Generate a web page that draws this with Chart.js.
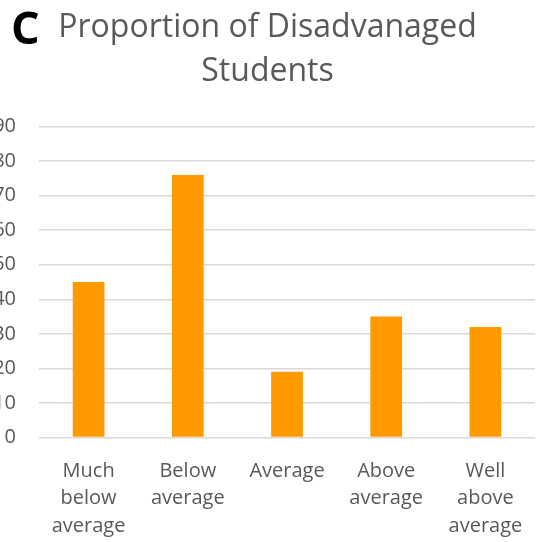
<!DOCTYPE html>
<html>
<head>
<meta charset="utf-8">
<script src="https://cdn.jsdelivr.net/npm/chart.js@4"></script>
<style>
  html, body { margin: 0; padding: 0; background: #ffffff; overflow: hidden; }
  #wrap { position: relative; width: 536px; height: 542px; }
</style>
</head>
<body>
<div id="wrap"><canvas id="c" width="536" height="542"></canvas></div>
<script>
const categories = [
  ["Much", "below", "average"],
  ["Below", "average"],
  "Average",
  ["Above", "average"],
  ["Well", "above", "average"]
];
const proportionValues = [45, 76, 19, 35, 32];
const titleLines = ["Proportion of Disadvanaged", "Students"];
const panelLetter = "C";
const yMin = 0, yMax = 90, yStep = 10;

const panelLetterPlugin = {
  id: 'panelLetter',
  afterDraw(chart) {
    const ctx = chart.ctx;
    ctx.save();
    ctx.font = 'bold 45px "Open Sans"';
    ctx.fillStyle = '#000000';
    ctx.textBaseline = 'alphabetic';
    ctx.textAlign = 'left';
    ctx.fillText(panelLetter, 11, 44);
    ctx.restore();
  }
};

new Chart(document.getElementById('c'), {
  type: 'bar',
  data: {
    labels: categories,
    datasets: [{
      data: proportionValues,
      backgroundColor: '#ff9900',
      borderWidth: 0,
      barPercentage: 0.8,
      categoryPercentage: 0.4
    }]
  },
  options: {
    responsive: false,
    animation: false,
    devicePixelRatio: 1,
    layout: { padding: { left: 0, right: 1, top: 0, bottom: 0 } },
    plugins: {
      legend: { display: false },
      tooltip: { enabled: false },
      title: {
        display: true,
        text: titleLines,
        color: '#595959',
        font: { family: '"Open Sans"', size: 32, weight: 'normal', lineHeight: 1.4 },
        padding: { top: 5, bottom: 32 }
      }
    },
    scales: {
      x: {
        grid: { display: false },
        border: { display: false },
        ticks: {
          color: '#595959',
          font: { family: '"Open Sans"', size: 20, lineHeight: 1.375 },
          maxRotation: 0,
          autoSkip: false,
          padding: 12
        },
        afterFit(scale) { scale.height = scale.height - 10; }
      },
      y: {
        min: yMin,
        max: yMax,
        grid: { color: '#d9d9d9', lineWidth: 1.5, drawTicks: false },
        border: { display: false },
        ticks: {
          stepSize: yStep,
          color: '#595959',
          font: { family: '"Open Sans"', size: 20 },
          padding: 23
        },
        afterFit(scale) { scale.width = 39; }
      }
    }
  },
  plugins: [panelLetterPlugin]
});
</script>
</body>
</html>
